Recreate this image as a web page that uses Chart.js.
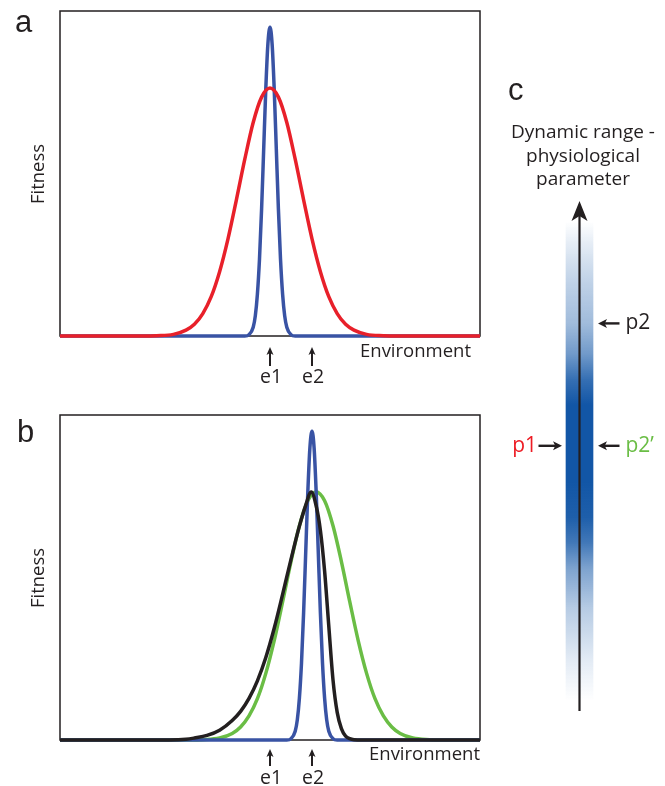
<!DOCTYPE html>
<html>
<head>
<meta charset="utf-8">
<script src="https://cdn.jsdelivr.net/npm/chart.js@4.4.0/dist/chart.umd.min.js"></script>
<style>
    body { margin: 0; background: #fff; width: 665px; height: 786px; overflow: hidden; position: relative; }
    canvas { position: absolute; }
</style>
</head>
<body>
<canvas id="panelA" width="490" height="395" style="left:0px;top:0px"></canvas>
<canvas id="panelB" width="490" height="386" style="left:0px;top:400px"></canvas>
<canvas id="panelC" width="175" height="680" style="left:490px;top:60px"></canvas>
<script>
// panel a : environment (0-100) vs fitness (0-1)
var envRedA = [0, 20, 23, 27, 30, 32, 34, 36, 38, 40, 42, 44, 46, 48, 50, 52, 54, 56, 58, 60, 62, 64, 66, 68, 70, 73, 77, 80, 100];
var fitRedA = [0, 0, 0.001, 0.005, 0.018, 0.036, 0.069, 0.121, 0.198, 0.299, 0.419, 0.544, 0.657, 0.735, 0.763, 0.735, 0.657, 0.544, 0.419, 0.299, 0.198, 0.121, 0.069, 0.036, 0.018, 0.005, 0.001, 0, 0];
var envBlueA = [0, 44, 45, 46, 46.5, 47, 47.5, 48, 48.5, 49, 49.5, 50, 50.5, 51, 51.5, 52, 52.5, 53, 53.5, 54, 55, 56, 100];
var fitBlueA = [0, 0, 0.004, 0.027, 0.062, 0.129, 0.237, 0.391, 0.576, 0.761, 0.899, 0.95, 0.899, 0.761, 0.576, 0.391, 0.237, 0.129, 0.062, 0.027, 0.004, 0, 0];

// panel b
var envBlueB = [0, 54, 55, 56, 56.5, 57, 57.5, 58, 58.5, 59, 59.5, 60, 60.5, 61, 61.5, 62, 62.5, 63, 63.5, 64, 65, 66, 100];
var fitBlueB = [0, 0, 0.004, 0.027, 0.062, 0.129, 0.237, 0.391, 0.576, 0.761, 0.899, 0.95, 0.899, 0.761, 0.576, 0.391, 0.237, 0.129, 0.062, 0.027, 0.004, 0, 0];
var envGreenB = [0, 31, 34, 38, 41, 43, 45, 47, 49, 51, 53, 55, 57, 59, 61, 63, 65, 67, 69, 71, 73, 75, 77, 79, 81, 84, 88, 91, 100];
var fitGreenB = [0, 0, 0.001, 0.006, 0.020, 0.040, 0.074, 0.127, 0.205, 0.306, 0.425, 0.549, 0.659, 0.736, 0.763, 0.736, 0.659, 0.549, 0.425, 0.306, 0.205, 0.127, 0.074, 0.040, 0.020, 0.006, 0.001, 0, 0];
var envBlackB = [0, 26, 30, 32, 35, 38, 41, 43, 45, 47, 49, 51, 53, 55, 57, 58.5, 59.8, 61, 62, 63, 64, 65, 66, 67, 68, 69, 70, 72, 100];
var fitBlackB = [0, 0, 0.002, 0.006, 0.014, 0.030, 0.060, 0.088, 0.128, 0.182, 0.254, 0.344, 0.448, 0.556, 0.658, 0.722, 0.763, 0.720, 0.645, 0.520, 0.350, 0.185, 0.085, 0.035, 0.012, 0.004, 0.001, 0, 0];

// marked environments
var markerLabels = ['e1', 'e2'];
var markerEnv = [50, 60];

// panel c : dynamic range (0-100)
var rangeExtent = [2, 96];
var rangeStops = [2, 10, 20, 28, 33, 38, 45, 60, 65, 70, 76, 85, 92, 96];
var rangeAlpha = [0, 0.12, 0.3, 0.55, 0.8, 0.95, 1, 1, 0.85, 0.6, 0.4, 0.25, 0.1, 0];
var paramLabels = ['p2', 'p1', 'p2\u2019'];
var paramValues = [76, 52, 52];
var paramSide = ['right', 'left', 'right'];
var paramColors = ['#231f20', '#ed1c24', '#6abd45'];

var RED = '#e8202a', BLUE = '#3953a4', GREEN = '#6abd45', INK = '#231f20';
var TEXT_FONT = '"Open Sans", sans-serif';
var LETTER_FONT = '"Liberation Sans", Arial, sans-serif';

function pts(xs, ys) {
    return xs.map(function (x, i) { return { x: x, y: ys[i] }; });
}

function arrow(ctx, x1, y1, x2, y2, head, width, lw) {
    var ang = Math.atan2(y2 - y1, x2 - x1);
    var c = Math.cos(ang), s = Math.sin(ang);
    var bx = x2 - c * head, by = y2 - s * head;
    ctx.lineWidth = lw;
    ctx.beginPath();
    ctx.moveTo(x1, y1);
    ctx.lineTo(x2 - c * head * 0.6, y2 - s * head * 0.6);
    ctx.stroke();
    ctx.beginPath();
    ctx.moveTo(x2, y2);
    ctx.lineTo(bx + s * width / 2, by - c * width / 2);
    ctx.lineTo(x2 - c * head * 0.75, y2 - s * head * 0.75);
    ctx.lineTo(bx - s * width / 2, by + c * width / 2);
    ctx.closePath();
    ctx.fill();
}

function line(data, color) {
    return { data: data, borderColor: color, borderWidth: 3.5, pointRadius: 0, clip: false,
        cubicInterpolationMode: 'monotone', borderCapStyle: 'butt', borderJoinStyle: 'round' };
}

function decor(cfg) {
    return {
        id: 'decor' + cfg.letter,
        beforeDatasetsDraw: function (chart) {
            var a = chart.chartArea, ctx = chart.ctx;
            ctx.save();
            ctx.strokeStyle = INK;
            ctx.lineWidth = 1.5;
            ctx.strokeRect(a.left, a.top, a.right - a.left, a.bottom - a.top);
            ctx.restore();
        },
        afterDraw: function (chart) {
            var ctx = chart.ctx, x = chart.scales.x;
            ctx.save();
            ctx.fillStyle = INK;
            ctx.strokeStyle = INK;
            ctx.font = '31px ' + LETTER_FONT;
            ctx.textBaseline = 'alphabetic';
            ctx.fillText(cfg.letter, cfg.letterX, cfg.letterY);

            ctx.font = '18.5px ' + TEXT_FONT;
            ctx.fillText('Environment', cfg.envX, cfg.envY);

            ctx.save();
            ctx.translate(cfg.fitX, cfg.fitY);
            ctx.rotate(-Math.PI / 2);
            ctx.textAlign = 'center';
            ctx.textBaseline = 'middle';
            ctx.fillText('Fitness', 0, 0);
            ctx.restore();

            ctx.font = '19.5px ' + TEXT_FONT;
            ctx.textAlign = 'center';
            markerEnv.forEach(function (v, i) {
                var px = x.getPixelForValue(v);
                arrow(ctx, px, cfg.arrowBottom, px, cfg.arrowTop, 8, 7, 2);
                ctx.fillText(markerLabels[i], px + 1, cfg.labelY);
            });
            ctx.restore();
        }
    };
}

function fitnessChart(id, datasets, pad, cfg) {
    return new Chart(document.getElementById(id), {
        type: 'line',
        data: { datasets: datasets },
        options: {
            responsive: false,
            animation: false,
            devicePixelRatio: 1,
            layout: { padding: pad },
            plugins: { legend: { display: false }, tooltip: { enabled: false } },
            scales: {
                x: { type: 'linear', min: 0, max: 100, display: false },
                y: { type: 'linear', min: 0, max: 1, display: false }
            }
        },
        plugins: [decor(cfg)]
    });
}

// first dataset is drawn on top
fitnessChart('panelA', [
    line(pts(envRedA, fitRedA), RED),
    line(pts(envBlueA, fitBlueA), BLUE)
], { left: 60, right: 10, top: 11, bottom: 59 }, {
    letter: 'a', letterX: 15, letterY: 32,
    envX: 360, envY: 357, fitX: 39, fitY: 174,
    arrowTop: 347, arrowBottom: 366, labelY: 383
});

fitnessChart('panelB', [
    line(pts(envBlackB, fitBlackB), INK),
    line(pts(envBlueB, fitBlueB), BLUE),
    line(pts(envGreenB, fitGreenB), GREEN)
], { left: 60, right: 10, top: 15, bottom: 46 }, {
    letter: 'b', letterX: 17, letterY: 42,
    envX: 369, envY: 360, fitX: 39, fitY: 178,
    arrowTop: 349, arrowBottom: 366, labelY: 384
});

var rangeDecor = {
    id: 'rangeDecor',
    afterDatasetsDraw: function (chart) {
        var ctx = chart.ctx, y = chart.scales.y;
        var cx = chart.scales.x.getPixelForValue(0);
        ctx.save();
        ctx.fillStyle = INK;
        ctx.strokeStyle = INK;
        arrow(ctx, cx, y.getPixelForValue(0), cx, y.getPixelForValue(100), 20, 16, 2.2);

        ctx.font = '31px ' + LETTER_FONT;
        ctx.fillText('c', 18, 40);

        ctx.font = '19px ' + TEXT_FONT;
        ctx.textAlign = 'center';
        ctx.fillText('Dynamic range -', 93, 78);
        ctx.fillText('physiological', 93, 101.5);
        ctx.fillText('parameter', 93, 125);

        ctx.font = '21px ' + TEXT_FONT;
        ctx.textBaseline = 'middle';
        paramValues.forEach(function (v, i) {
            var py = y.getPixelForValue(v);
            ctx.fillStyle = INK;
            if (paramSide[i] === 'right') {
                arrow(ctx, cx + 40, py, cx + 18.5, py, 9, 9, 2.4);
                ctx.textAlign = 'left';
                ctx.fillStyle = paramColors[i];
                ctx.fillText(paramLabels[i], cx + 46, py);
            } else {
                arrow(ctx, cx - 41, py, cx - 17.5, py, 9, 9, 2.4);
                ctx.textAlign = 'right';
                ctx.fillStyle = paramColors[i];
                ctx.fillText(paramLabels[i], cx - 42.5, py);
            }
        });
        ctx.restore();
    }
};

new Chart(document.getElementById('panelC'), {
    type: 'bar',
    data: {
        labels: ['range'],
        datasets: [{
            data: [rangeExtent],
            barThickness: 27,
            borderWidth: 0,
            backgroundColor: function (c) {
                var chart = c.chart;
                if (!chart.chartArea) return 'rgba(0,0,0,0)';
                var y = chart.scales.y;
                var g = chart.ctx.createLinearGradient(0, y.getPixelForValue(0), 0, y.getPixelForValue(100));
                rangeStops.forEach(function (s, i) {
                    g.addColorStop(s / 100, 'rgba(18,86,166,' + rangeAlpha[i] + ')');
                });
                return g;
            }
        }]
    },
    options: {
        responsive: false,
        animation: false,
        devicePixelRatio: 1,
        layout: { padding: { left: 60, right: 56, top: 141, bottom: 29 } },
        plugins: { legend: { display: false }, tooltip: { enabled: false } },
        scales: {
            x: { display: false },
            y: { type: 'linear', min: 0, max: 100, display: false }
        }
    },
    plugins: [rangeDecor]
});
</script>
</body>
</html>
